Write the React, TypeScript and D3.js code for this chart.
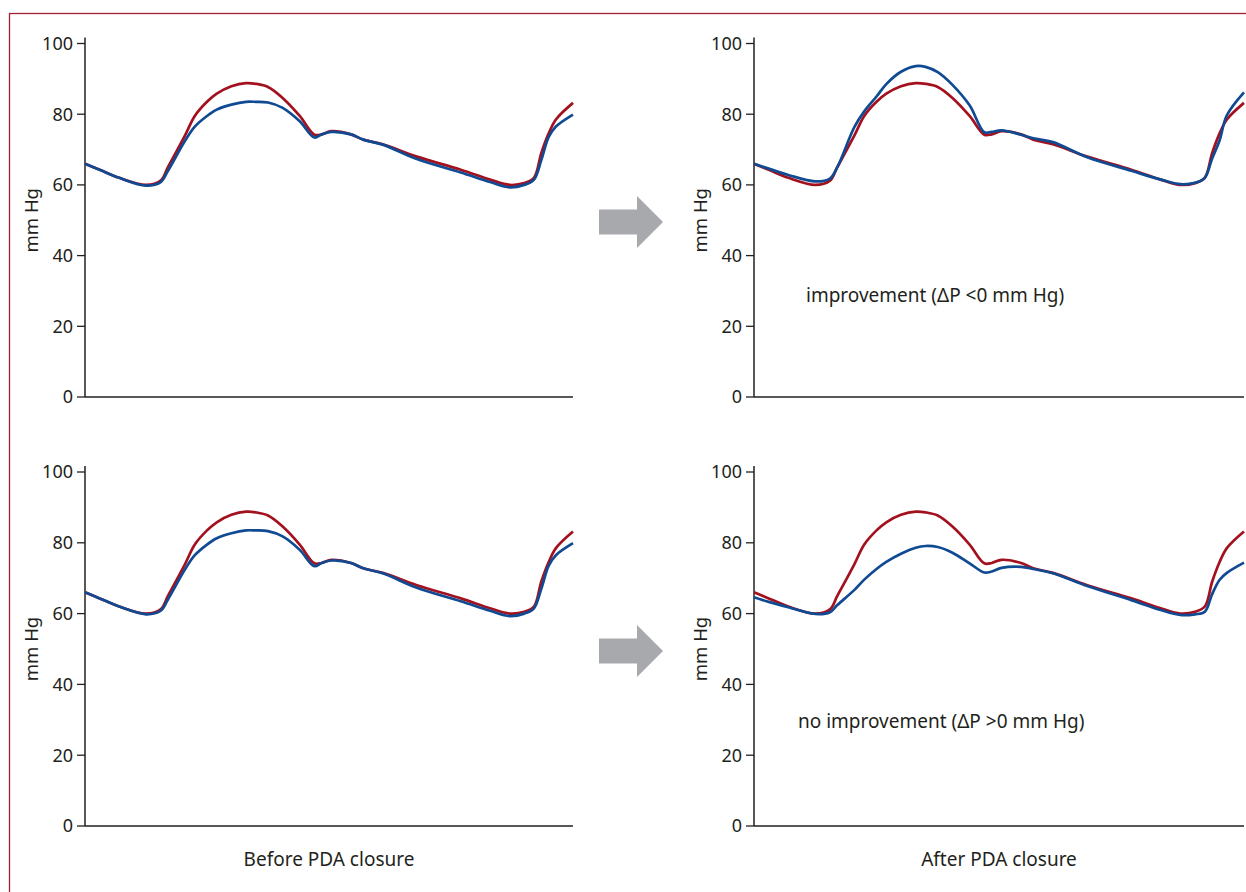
import * as d3 from "d3";

// % of the cardiac cycle
const cycleTime = [0, 3, 7, 12.5, 15.5, 17, 20.5, 22.5, 25, 27, 30, 33, 35, 37.5, 40.5, 44, 47, 48.5, 50.5, 54.5, 57, 61, 68, 77, 83, 87, 90, 92, 93.5, 95, 96.5, 100];

// pressures in mm Hg
const redPressure = [66, 64.3, 62, 60, 61.2, 65, 74, 79.5, 83.5, 85.8, 87.9, 88.8, 88.6, 87.7, 84.6, 79.5, 74.2, 74.3, 75.2, 74.3, 72.8, 71.5, 68, 64.3, 61.5, 60, 60.5, 62, 69, 74.5, 78.5, 83.2];
const bluePressureBefore = [66, 64.3, 62, 59.8, 60.8, 64, 72.5, 76.5, 79.5, 81.3, 82.7, 83.5, 83.5, 83.3, 81.8, 78, 73.4, 74.3, 75, 74.3, 72.8, 71.4, 67.3, 63.5, 60.8, 59.3, 60, 61.5, 67, 73.5, 76.5, 79.9];
const bluePressureImproved = [66, 64.6, 62.8, 61, 61.8, 65, 76.4, 80.8, 85, 88.5, 92, 93.6, 93.4, 91.9, 88.3, 82.5, 74.9, 75, 75.4, 74.2, 73.2, 72.1, 67.8, 64, 61.5, 60.2, 60.6, 62, 67.5, 72.5, 79.7, 86.2];
const bluePressureNoImprovement = [64.6, 63.3, 61.8, 59.9, 60.4, 62.4, 66.7, 69.6, 72.6, 74.6, 76.9, 78.6, 79.1, 78.8, 77.2, 74.2, 71.6, 71.9, 72.9, 73.2, 72.6, 71.4, 67.8, 63.8, 61, 59.6, 59.8, 60.5, 65.5, 69.5, 71.5, 74.4];

const yTicks = [0, 20, 40, 60, 80, 100];
const yLabel = "mm Hg";
const columnTitles = ["Before PDA closure", "After PDA closure"];
const notes = ["improvement (ΔP <0 mm Hg)", "no improvement (ΔP >0 mm Hg)"];

const RED = "#a3111f";
const BLUE = "#0f4a93";
const INK = "#231f20";
const FONT = "'Noto Sans', sans-serif";

const panels = [
  { x0: 85, x1: 573, top: 43.5, bottom: 397, blue: bluePressureBefore, note: null, noteX: 0, noteY: 0 },
  { x0: 754, x1: 1244, top: 43.5, bottom: 397, blue: bluePressureImproved, note: notes[0], noteX: 806, noteY: 302 },
  { x0: 85, x1: 573, top: 472, bottom: 826, blue: bluePressureBefore, note: null, noteX: 0, noteY: 0 },
  { x0: 754, x1: 1244, top: 472, bottom: 826, blue: bluePressureNoImprovement, note: notes[1], noteX: 798, noteY: 728 },
];

function Panel({ p }) {
  const x = d3.scaleLinear().domain([0, 100]).range([p.x0, p.x1]);
  const y = d3.scaleLinear().domain([0, 100]).range([p.bottom, p.top]);
  const line = d3
    .line<number>()
    .x((_, i) => x(cycleTime[i]))
    .y((d) => y(d))
    .curve(d3.curveCatmullRom.alpha(0.5));
  const mid = (p.top + p.bottom) / 2;
  return (
    <g>
      {/* axes */}
      <line x1={p.x0} x2={p.x0} y1={p.top - 6} y2={p.bottom} stroke={INK} strokeWidth={1.5} />
      <line x1={p.x0} x2={p.x1} y1={p.bottom} y2={p.bottom} stroke={INK} strokeWidth={1.5} />
      {yTicks.map((t) => (
        <g key={t}>
          <line x1={p.x0 - 8} x2={p.x0} y1={y(t)} y2={y(t)} stroke={INK} strokeWidth={1.3} />
          <text x={p.x0 - 12} y={y(t)} dy="0.35em" textAnchor="end" fontSize={18} fill={INK} fontFamily={FONT}>
            {t}
          </text>
        </g>
      ))}
      <text
        transform={`translate(${p.x0 - 47},${mid}) rotate(-90)`}
        textAnchor="middle"
        fontSize={18.5}
        fill={INK}
        fontFamily={FONT}
      >
        {yLabel}
      </text>
      <path d={line(redPressure) ?? ""} fill="none" stroke={RED} strokeWidth={2.7} />
      <path d={line(p.blue) ?? ""} fill="none" stroke={BLUE} strokeWidth={2.7} />
      {p.note && (
        <text x={p.noteX} y={p.noteY} fontSize={19} fill={INK} fontFamily={FONT}>
          {p.note}
        </text>
      )}
    </g>
  );
}

function Arrow({ cy }) {
  // block arrow between the columns
  const pts = [
    [599, cy - 12.5],
    [637, cy - 12.5],
    [637, cy - 26],
    [663, cy],
    [637, cy + 26],
    [637, cy + 12.5],
    [599, cy + 12.5],
  ];
  return <polygon points={pts.map((d) => d.join(",")).join(" ")} fill="#a7a9ac" />;
}

export default function App() {
  return (
    <svg
      width={1246}
      height={892}
      style={{ position: "absolute", left: 0, top: 0, background: "#fff" }}
    >
      <rect x={9.5} y={13.5} width={1300} height={1000} fill="none" stroke="#a31f34" strokeWidth={1.3} />
      {panels.map((p, i) => (
        <Panel key={i} p={p} />
      ))}
      <Arrow cy={222} />
      <Arrow cy={651} />
      <text x={329} y={866} textAnchor="middle" fontSize={19} fill={INK} fontFamily={FONT}>
        {columnTitles[0]}
      </text>
      <text x={999} y={866} textAnchor="middle" fontSize={19} fill={INK} fontFamily={FONT}>
        {columnTitles[1]}
      </text>
    </svg>
  );
}
